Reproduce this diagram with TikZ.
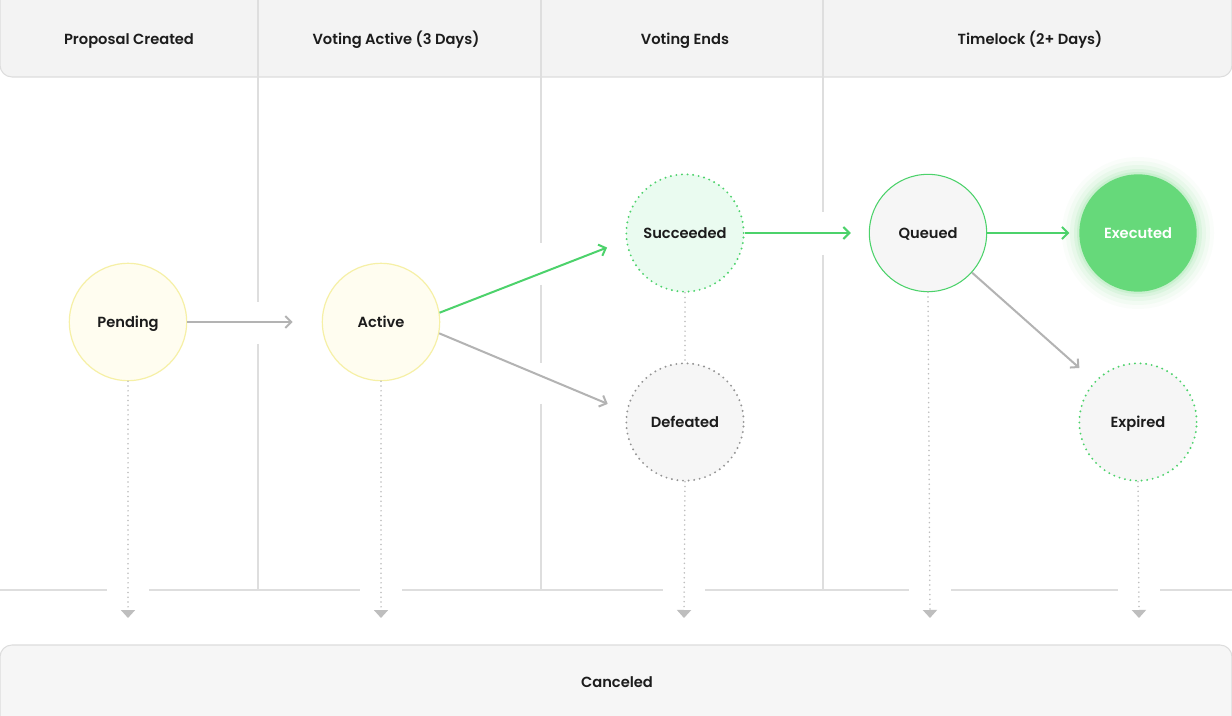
\documentclass[tikz,border=0pt]{standalone}
\usepackage{fontspec}
\setmainfont{Poppins}[BoldFont={Poppins SemiBold}]
\usetikzlibrary{arrows.meta}
\definecolor{headfill}{HTML}{F3F3F3}
\definecolor{headline}{HTML}{DDDDDD}
\definecolor{divline}{HTML}{DEDEDE}
\definecolor{arrgray}{HTML}{B3B3B3}
\definecolor{arrgreen}{HTML}{4CD26B}
\definecolor{dotgray}{HTML}{BEBEBE}
\definecolor{yelfill}{HTML}{FFFDF0}
\definecolor{yelline}{HTML}{F6F0A6}
\definecolor{mintfill}{HTML}{EAFBF0}
\definecolor{greyfill}{HTML}{F6F6F6}
\definecolor{exefill}{HTML}{66D97A}
\definecolor{txt}{HTML}{1C1C1C}
\begin{document}
\begin{tikzpicture}[x=0.75pt,y=-0.75pt,
  lbl/.style={font=\fontsize{11}{13}\selectfont\bfseries, text=txt, text height=7.6pt, text depth=0pt},
  state/.style={circle, minimum size=88pt, inner sep=0pt, line width=0.9pt, lbl},
  dotborder/.style={dash pattern=on 0pt off 4.2pt, line cap=round, line width=1.6pt},
  yelstate/.style={state, draw=yelline, fill=yelfill},
  mintstate/.style={state, draw=arrgreen, fill=mintfill, dotborder},
  greystate/.style={state, draw=gray!85, fill=greyfill, dotborder},
  expstate/.style={state, draw=arrgreen, fill=greyfill, dotborder},
  questate/.style={state, draw=arrgreen, fill=greyfill, line width=0.8pt},
  exestate/.style={state, fill=exefill, text=white},
  grayarr/.style={draw=arrgray, line width=1.5pt, -{Straight Barb[length=4.5pt,width=9pt]}},
  greenarr/.style={draw=arrgreen, line width=1.5pt, -{Straight Barb[length=4.5pt,width=9pt]}},
  dropline/.style={draw=dotgray, line width=1.3pt, dash pattern=on 0pt off 3.6pt, line cap=round},
  downarr/.style={dropline, -{Triangle[length=6pt,width=10.5pt,fill=dotgray]}},
  divider/.style={draw=divline, line width=0.8pt},
]
\useasboundingbox (0,0) rectangle (1232,716);
\fill[white] (0,0) rectangle (1232,716);
% header band
\filldraw[fill=headfill, draw=headline, line width=0.8pt, rounded corners=9] (0,-30) rectangle (1232,77);
% canceled band
\filldraw[fill=greyfill, draw=headline, line width=0.8pt, rounded corners=9] (0,645) rectangle (1232,760);
% column dividers
\draw[divider] (258,0) -- (258,302) (258,344) -- (258,590);
\draw[divider] (541,0) -- (541,243) (541,285) -- (541,363) (541,404) -- (541,590);
\draw[divider] (823,0) -- (823,212) (823,255) -- (823,590);
% horizontal baseline with gaps
\draw[divider] (0,590) -- (107,590) (149,590) -- (360,590) (402,590) -- (663,590)
  (705,590) -- (909,590) (951,590) -- (1118,590) (1160,590) -- (1232,590);
% header labels
\node[lbl] (h1) at (129,39) {Proposal Created};
\node[lbl] (h2) at (396,39) {Voting Active (3 Days)};
\node[lbl] (h3) at (685,39) {Voting Ends};
\node[lbl] (h4) at (1030,39) {Timelock (2+ Days)};
\node[lbl] (cancel) at (617,682) {Canceled};
% glow for executed
\foreach \r/\o in {76/0.03,72/0.05,68/0.07,64/0.1,61/0.14}
  \fill[exefill, opacity=\o] (1138,233) circle[radius=\r];
% states
\node[yelstate] (pend) at (128,322) {Pending};
\node[yelstate] (act) at (381,322) {Active};
\node[mintstate] (succ) at (685,233) {Succeeded};
\node[greystate] (def) at (685,422) {Defeated};
\node[questate] (que) at (928,233) {Queued};
\node[exestate] (exe) at (1138,233) {Executed};
\node[expstate] (exp) at (1138,422) {Expired};
% drop targets
\coordinate (dp) at (128,618);
\coordinate (da) at (381,618);
\coordinate (dd) at (684,618);
\coordinate (dq) at (930,618);
\coordinate (de) at (1139,618);
% transitions
\draw[grayarr, shorten >=21.75pt] (pend.east) -- (act.west);
\draw[greenarr, shorten >=15pt] (act.9) -- (succ.187);
\draw[grayarr, shorten >=15pt] (act.-11) -- (def.170);
\draw[greenarr, shorten >=13.5pt] (succ.east) -- (que.west);
\draw[greenarr, shorten >=7pt] (que.east) -- (exe.west);
\draw[grayarr, shorten >=15pt] (que.-42) -- (exp.137);
\draw[dropline] (succ.south) -- (def.north);
% cancellation drops
\draw[downarr] (pend.south) -- (dp);
\draw[downarr] (act.south) -- (da);
\draw[downarr] (def.south) -- (dd);
\draw[downarr] (que.south) -- (dq);
\draw[downarr] (exp.south) -- (de);
\end{tikzpicture}
\end{document}
